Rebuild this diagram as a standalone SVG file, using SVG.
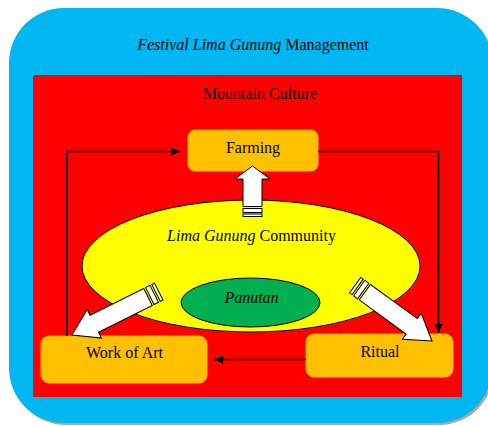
<svg xmlns="http://www.w3.org/2000/svg" width="488" height="426" viewBox="0 0 488 426">
<defs>
<style>
text{font-size:16px;fill:#000;text-anchor:middle}
.it{font-style:italic}
.box{fill:#FFC000;stroke:#F5B800;stroke-width:1}
.conn{fill:none;stroke:#000;stroke-width:1.6}
.blk{fill:#fff;stroke:#000;stroke-width:1;stroke-linejoin:miter}
</style>
<marker id="ah" markerWidth="10" markerHeight="10" refX="9" refY="5" orient="auto" markerUnits="userSpaceOnUse">
<path d="M0,1 L9,5 L0,9 Z" fill="#000"/>
</marker>
</defs>
<g font-family="'Liberation Serif', 'DejaVu Serif', serif">
<g id="background">
<rect x="11" y="10" width="483" height="415" rx="55" fill="#A8A8A8"/>
<rect x="9" y="8" width="483" height="415" rx="55" fill="#00B7F1"/>
<text x="253" y="50"><tspan class="it">Festival Lima Gunung</tspan> Management</text>
</g>
<g id="mountain-culture">
<rect x="33" y="75" width="429" height="322" fill="#FF0000"/>
<text x="260" y="99">Mountain Culture</text>
</g>
<g id="community">
<ellipse cx="251" cy="266" rx="169" ry="66" fill="#FFFF00" stroke="#000" stroke-width="1"/>
<text x="251.5" y="241"><tspan class="it">Lima Gunung</tspan> Community</text>
</g>
<g id="panutan">
<ellipse cx="250.5" cy="302.5" rx="69.5" ry="24.5" fill="#00B050" stroke="#000" stroke-width="1"/>
<text x="251.5" y="303" class="it">Panutan</text>
</g>
<g id="farming">
<rect class="box" x="188" y="130" width="130" height="41" rx="7"/>
<text x="253" y="153">Farming</text>
</g>
<g id="work-of-art">
<rect class="box" x="41" y="336" width="166" height="47" rx="8"/>
<text x="124.5" y="358">Work of Art</text>
</g>
<g id="ritual">
<rect class="box" x="306" y="334" width="147" height="43" rx="8"/>
<text x="380" y="357">Ritual</text>
</g>
<g id="connectors">
<path class="conn" d="M67,336 V151.5 H180" marker-end="url(#ah)"/>
<path class="conn" d="M318,151.5 H438.5 V333" marker-end="url(#ah)"/>
<path class="conn" d="M306,359.5 H214" marker-end="url(#ah)"/>
<g id="arrow-up">
<polygon class="blk" points="252.5,166 270,179 262,179 262,206.5 243,206.5 243,179 235,179"/>
<rect class="blk" x="243" y="208.5" width="19" height="4"/>
<rect class="blk" x="243" y="214" width="19" height="2.5"/>
</g>
<g id="arrow-left" transform="translate(72,335) rotate(153.4)">
<polygon class="blk" points="0,0 -25,-16 -25,-9.5 -85,-9.5 -85,9.5 -25,9.5 -25,16"/>
<rect class="blk" x="-92" y="-9.5" width="5" height="19"/>
<rect class="blk" x="-97" y="-9.5" width="3" height="19"/>
</g>
<g id="arrow-right" transform="translate(432,341) rotate(36)">
<polygon class="blk" points="0,0 -25,-16 -25,-9.5 -83,-9.5 -83,9.5 -25,9.5 -25,16"/>
<rect class="blk" x="-90" y="-9.5" width="5" height="19"/>
<rect class="blk" x="-95" y="-9.5" width="3" height="19"/>
</g>
</g>
</g>
</svg>
